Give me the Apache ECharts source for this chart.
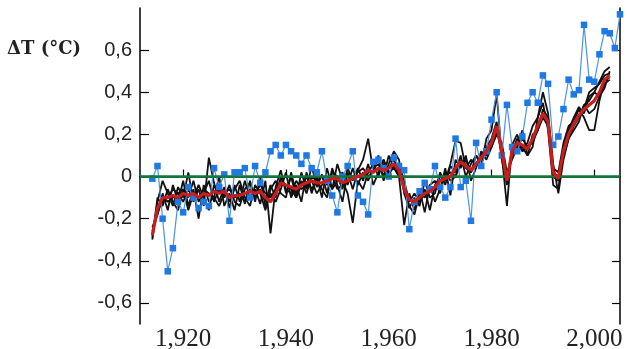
<!DOCTYPE html>
<html>
<head>
<meta charset="utf-8">
<script src="https://cdn.jsdelivr.net/npm/echarts@6/dist/echarts.min.js"></script>
<style>
html, body { margin: 0; padding: 0; background: #fff; }
#main { width: 627px; height: 349px; }
</style>
</head>
<body>
<div id="main"></div>
<script>
// first year of every series below
var startYear = 1914;

// observed anomaly (blue squares), 1914-2005
var obsTemp = [
  -0.01, 0.05, -0.20, -0.45, -0.34, -0.12, -0.17, -0.05, -0.10, -0.15,
  -0.12, -0.14, 0.04, -0.05, 0.01, -0.21, 0.02, 0.02, 0.04, -0.10,
  0.05, -0.03, 0.02, 0.12, 0.15, 0.10, 0.15, 0.12, 0.10, 0.06,
  0.10, 0.04, 0.02, 0.12, -0.02, -0.09, -0.17, 0.00, 0.05, 0.12,
  -0.09, -0.12, -0.18, 0.07, 0.08, 0.04, 0.00, 0.09, 0.05, 0.03,
  -0.25, -0.12, -0.07, -0.03, -0.06, 0.05, -0.05, -0.10, -0.05, 0.18,
  -0.05, -0.02, -0.21, 0.16, 0.05, 0.12, 0.27, 0.40, 0.10, 0.34,
  0.14, 0.12, 0.19, 0.35, 0.40, 0.35, 0.48, 0.44, 0.15, 0.19,
  0.32, 0.46, 0.39, 0.41, 0.72, 0.46, 0.45, 0.58, 0.69, 0.68,
  0.61, 0.77
];

// model runs (black), 1914-2003
var run1 = [
  -0.30, -0.12, -0.02, -0.08, -0.14, -0.05, -0.10, 0.02, -0.12, -0.06,
  -0.14, 0.09, -0.03, -0.12, -0.05, -0.15, -0.04, -0.12, -0.02, -0.10,
  -0.06, -0.13, -0.02, -0.27, -0.05, 0.03, -0.08, 0.00, -0.10, 0.02,
  -0.06, 0.05, -0.05, 0.01, -0.08, 0.04, -0.04, -0.12, 0.02, -0.06,
  0.03, 0.08, 0.18, 0.02, 0.10, -0.02, 0.06, 0.12, 0.08, -0.08,
  -0.15, -0.10, -0.14, -0.02, -0.10, -0.08, 0.02, -0.04, 0.05, 0.02,
  0.10, 0.00, 0.06, 0.10, 0.05, 0.18, 0.22, 0.39, 0.10, -0.14,
  0.15, 0.20, 0.12, 0.16, 0.24, 0.28, 0.35, 0.22, -0.04, -0.06,
  0.14, 0.22, 0.28, 0.33, 0.30, 0.38, 0.40, 0.45, 0.50, 0.52
];
var run2 = [
  -0.26, -0.18, -0.08, -0.16, -0.04, -0.12, -0.02, -0.14, -0.06, -0.20,
  -0.04, -0.12, -0.10, 0.00, -0.14, -0.08, -0.16, -0.04, -0.13, -0.02,
  -0.12, 0.00, -0.14, -0.08, -0.12, -0.06, 0.02, -0.10, -0.04, -0.12,
  0.02, -0.08, 0.00, -0.10, 0.04, -0.06, 0.06, -0.02, -0.08, -0.22,
  -0.02, -0.06, 0.02, 0.06, 0.00, 0.08, 0.02, 0.04, 0.00, -0.23,
  -0.08, -0.16, -0.06, -0.17, -0.04, -0.12, -0.06, 0.04, -0.09, 0.08,
  0.04, 0.10, -0.02, 0.04, 0.12, 0.08, 0.14, 0.20, 0.16, 0.02,
  0.08, 0.14, 0.22, 0.10, 0.14, 0.28, 0.40, 0.30, 0.06, -0.08,
  0.08, 0.18, 0.22, 0.26, 0.34, 0.30, 0.32, 0.38, 0.44, 0.46
];
var run3 = [
  -0.29, -0.10, -0.14, -0.06, -0.12, -0.16, -0.06, -0.10, -0.02, -0.12,
  -0.08, -0.02, -0.12, -0.06, -0.10, -0.04, -0.12, -0.14, -0.06, -0.03,
  -0.10, -0.06, -0.12, -0.04, -0.10, 0.00, -0.06, -0.08, -0.02, -0.06,
  -0.04, -0.02, -0.08, -0.04, 0.00, -0.06, -0.02, 0.02, -0.04, 0.04,
  -0.04, 0.02, -0.02, 0.04, 0.06, 0.00, 0.10, 0.04, 0.06, -0.02,
  -0.12, -0.08, -0.12, -0.06, -0.16, -0.04, 0.00, -0.02, 0.06, 0.17,
  0.16, 0.04, 0.08, 0.06, 0.10, 0.14, 0.18, 0.26, 0.08, -0.04,
  0.12, 0.18, 0.14, 0.10, 0.20, 0.22, 0.30, 0.26, 0.04, 0.02,
  0.16, 0.24, 0.26, 0.32, 0.28, 0.22, 0.22, 0.36, 0.46, 0.47
];
var run4 = [
  -0.27, -0.16, -0.12, -0.10, -0.06, -0.08, -0.12, -0.06, -0.10, -0.04,
  -0.10, -0.16, -0.04, -0.08, -0.06, -0.12, -0.06, -0.02, -0.10, -0.14,
  -0.04, -0.08, -0.16, -0.06, -0.02, -0.08, -0.10, 0.02, -0.08, -0.02,
  -0.08, 0.00, -0.02, -0.06, -0.10, 0.02, 0.00, -0.06, 0.04, -0.02,
  0.04, -0.02, 0.06, -0.04, 0.02, 0.08, 0.00, 0.06, 0.00, -0.04,
  -0.14, -0.18, -0.08, -0.10, -0.04, -0.02, -0.08, 0.02, -0.02, 0.00,
  0.06, 0.08, 0.02, 0.10, 0.06, 0.12, 0.16, 0.22, 0.14, 0.00,
  0.10, 0.16, 0.12, 0.14, 0.16, 0.22, 0.32, 0.28, 0.00, -0.02,
  0.10, 0.18, 0.24, 0.28, 0.34, 0.36, 0.40, 0.38, 0.42, 0.50
];
var run5 = [
  -0.24, -0.18, -0.10, -0.12, -0.10, -0.08, -0.06, -0.16, -0.08, -0.10,
  -0.06, -0.08, -0.10, -0.14, -0.08, -0.06, -0.10, -0.08, -0.12, -0.06,
  -0.08, -0.04, -0.08, -0.10, -0.06, -0.02, -0.04, -0.06, -0.10, -0.04,
  0.00, -0.06, -0.02, 0.00, -0.04, 0.00, -0.06, -0.04, -0.02, 0.00,
  0.02, 0.04, 0.00, 0.02, 0.04, 0.06, 0.04, 0.08, 0.02, -0.06,
  -0.10, -0.12, -0.12, -0.08, -0.06, -0.06, 0.00, 0.00, 0.02, 0.00,
  0.08, 0.04, 0.02, 0.06, 0.10, 0.10, 0.14, 0.22, 0.12, -0.02,
  0.14, 0.14, 0.18, 0.14, 0.18, 0.22, 0.28, 0.24, 0.02, 0.00,
  0.12, 0.20, 0.26, 0.28, 0.32, 0.40, 0.42, 0.44, 0.48, 0.49
];

// ensemble mean (red), 1914-2003
var ensMean = [
  -0.28, -0.15, -0.10, -0.10, -0.09, -0.10, -0.08, -0.09, -0.08, -0.10,
  -0.08, -0.09, -0.07, -0.08, -0.07, -0.10, -0.09, -0.09, -0.08, -0.07,
  -0.08, -0.07, -0.10, -0.12, -0.08, -0.03, -0.04, -0.05, -0.06, -0.04,
  -0.03, -0.02, -0.03, -0.03, -0.02, -0.01, -0.01, -0.03, -0.02, -0.01,
  0.00, 0.01, 0.03, 0.02, 0.04, 0.03, 0.04, 0.06, 0.03, -0.06,
  -0.11, -0.12, -0.10, -0.08, -0.07, -0.05, -0.02, -0.01, 0.00, 0.04,
  0.07, 0.05, 0.03, 0.06, 0.09, 0.12, 0.16, 0.24, 0.12, -0.02,
  0.12, 0.16, 0.15, 0.13, 0.18, 0.24, 0.30, 0.26, 0.02, -0.01,
  0.12, 0.20, 0.25, 0.29, 0.32, 0.34, 0.36, 0.40, 0.46, 0.48
];

var yearTicks = [1920, 1940, 1960, 1980, 2000];
var tempTicks = [-0.6, -0.4, -0.2, 0, 0.2, 0.4, 0.6];

function toPairs(arr) {
  return arr.map(function (v, i) { return [startYear + i, v]; });
}

function fmtTemp(v) {
  if (Math.abs(v) < 1e-9) return '0';
  return v.toFixed(1).replace('.', ',');
}

var myChart = echarts.init(document.getElementById('main'));

var runSeries = [run1, run2, run3, run4, run5].map(function (r) {
  return {
    type: 'line',
    data: toPairs(r),
    symbol: 'none',
    silent: true,
    lineStyle: { color: '#111', width: 1.8 },
    z: 2
  };
});

myChart.setOption({
  animation: false,
  grid: { left: 140, right: 7, top: 8, bottom: 25, outerBoundsMode: 'none' },
  graphic: [{
    type: 'text',
    left: 7,
    top: 40,
    style: {
      text: 'ΔT (°C)',
      font: 'bold 18px "DejaVu Serif", serif',
      fill: '#222'
    }
  }],
  xAxis: {
    type: 'value',
    min: 1911.6,
    max: 2005,
    splitLine: { show: false },
    axisLine: { lineStyle: { color: '#000', width: 1.5 } },
    axisTick: { inside: true, length: 7, customValues: yearTicks, lineStyle: { color: '#000', width: 1.2 } },
    axisLabel: {
      customValues: yearTicks,
      margin: 3,
      color: '#222',
      fontFamily: '"Liberation Serif", serif',
      fontSize: 25
    }
  },
  yAxis: [{
    type: 'value',
    min: -0.7,
    max: 0.8,
    splitLine: { show: false },
    axisLine: { show: true, lineStyle: { color: '#000', width: 1.5 } },
    axisTick: { show: true, inside: true, length: 9, customValues: tempTicks, lineStyle: { color: '#000', width: 1.2 } },
    axisLabel: {
      customValues: tempTicks,
      margin: 8,
      color: '#222',
      fontFamily: '"Liberation Sans", Arial, sans-serif',
      fontSize: 20,
      formatter: fmtTemp
    }
  }, {
    type: 'value',
    position: 'right',
    min: -0.7,
    max: 0.8,
    splitLine: { show: false },
    axisLine: { show: true, lineStyle: { color: '#000', width: 1.5 } },
    axisTick: { show: true, inside: true, length: 8, customValues: tempTicks, lineStyle: { color: '#000', width: 1.2 } },
    axisLabel: { show: false }
  }],
  series: runSeries.concat([
    {
      // zero reference line
      type: 'line',
      data: [],
      silent: true,
      markLine: {
        silent: true,
        symbol: 'none',
        label: { show: false },
        lineStyle: { color: '#0f7a3a', width: 2.5, type: 'solid' },
        data: [{ yAxis: 0 }]
      },
      z: 3
    },
    {
      name: 'obs',
      type: 'line',
      data: toPairs(obsTemp),
      symbol: 'rect',
      symbolSize: 6.5,
      itemStyle: { color: '#1f78e4' },
      lineStyle: { color: '#4a95e2', width: 1.2 },
      z: 4
    },
    {
      name: 'mean',
      type: 'line',
      data: toPairs(ensMean),
      symbol: 'none',
      lineStyle: { color: '#c81e1e', width: 3.2 },
      z: 5
    }
  ])
});
</script>
</body>
</html>
